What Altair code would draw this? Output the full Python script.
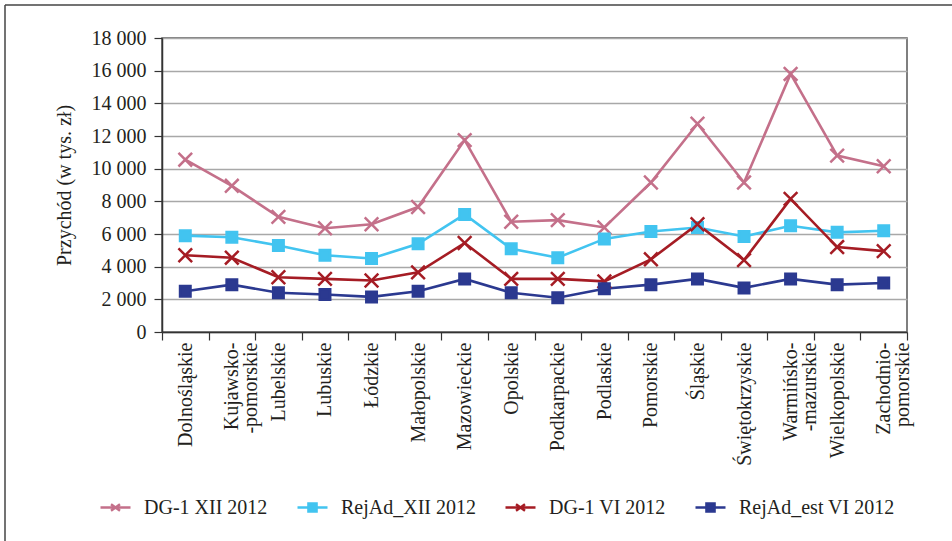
import altair as alt
import pandas as pd

# Regions (voivodeships); "|" marks a line break in the axis label
regions = [
    "Dolnośląskie", "Kujawsko-|-pomorskie", "Lubelskie", "Lubuskie", "Łódzkie",
    "Małopolskie", "Mazowieckie", "Opolskie", "Podkarpackie", "Podlaskie",
    "Pomorskie", "Śląskie", "Świętokrzyskie", "Warmińsko-|-mazurskie",
    "Wielkopolskie", "Zachodnio-|pomorskie",
]

series_names = ["DG-1 XII 2012", "RejAd_XII 2012", "DG-1 VI 2012", "RejAd_est VI 2012"]

# Revenue in thousands of PLN
dg1_xii = [10550, 8950, 7050, 6350, 6600, 7650, 11750, 6750, 6850, 6400, 9150, 12750, 9150, 15800, 10800, 10150]
rejad_xii = [5900, 5800, 5300, 4700, 4500, 5400, 7200, 5100, 4550, 5700, 6150, 6400, 5850, 6500, 6100, 6200]
dg1_vi = [4700, 4550, 3350, 3250, 3150, 3650, 5450, 3250, 3250, 3100, 4450, 6600, 4400, 8150, 5200, 4950]
rejad_est_vi = [2500, 2900, 2400, 2300, 2150, 2500, 3250, 2400, 2100, 2650, 2900, 3250, 2700, 3250, 2900, 3000]

series_colors = ["#c4708a", "#42c4f0", "#a51c24", "#2b3990"]

# Marker shapes: an X for the DG-1 series, a square for the RejAd series
X_PATH = "M-1.3,-1.3L1.3,1.3M-1.3,1.3L1.3,-1.3"
marker_shapes = [X_PATH, "square", X_PATH, "square"]
# Legend symbols: a short line segment with the marker on top
LEG_X = "M-1,0H1M-0.3,-0.22L0.3,0.22M-0.3,0.22L0.3,-0.22"
LEG_SQ = "M-1,0H1M-0.27,-0.27H0.27V0.27H-0.27Z"
legend_shapes = [LEG_X, LEG_SQ, LEG_X, LEG_SQ]

rows = []
for name, vals in zip(series_names, [dg1_xii, rejad_xii, dg1_vi, rejad_est_vi]):
    for reg, v in zip(regions, vals):
        rows.append({"region": reg, "series": name, "value": v})
df = pd.DataFrame(rows)

TEXT = "#231f20"
FONT = "Liberation Serif"

x_enc = alt.X(
    "region:N", sort=regions,
    scale=alt.Scale(type="band", paddingInner=0, paddingOuter=0),
    axis=alt.Axis(
        title=None, labelAngle=270, labelFont=FONT, labelFontSize=20, labelColor=TEXT,
        labelExpr="datum.value ? split(datum.value, '|') : ''",
        labelLimit=0, labelPadding=2, labelLineHeight=19,
        tickBand="extent", tickSize=8, tickColor="#333333", tickWidth=1.2,
        domainColor="#333333", domainWidth=1.5, grid=False,
    ),
)
y_enc = alt.Y(
    "value:Q",
    scale=alt.Scale(domain=[0, 18000], nice=False),
    axis=alt.Axis(
        title="Przychód (w tys. zł)", titleFont=FONT, titleFontSize=20,
        titleFontWeight="normal", titleColor=TEXT, titlePadding=17,
        values=list(range(0, 18001, 2000)),
        labelExpr="replace(format(datum.value, ','), ',', ' ')",
        labelFont=FONT, labelFontSize=20, labelColor=TEXT, labelPadding=8,
        tickSize=8, tickColor="#333333", tickWidth=1.2,
        domainColor="#333333", domainWidth=1.5,
        grid=True, gridColor="#a8a8a8", gridWidth=1.5,
    ),
)

stroke_scale = alt.Scale(domain=series_names, range=series_colors)

base = alt.Chart(df).encode(x=x_enc, y=y_enc)

lines = base.mark_line(strokeWidth=2.6).encode(
    stroke=alt.Stroke("series:N", scale=stroke_scale, legend=None),
)

points = base.mark_point(filled=True, size=110, strokeWidth=2.5, opacity=1).encode(
    fill=alt.Fill("series:N", scale=stroke_scale, legend=None),
    stroke=alt.Stroke("series:N", scale=stroke_scale, legend=None),
    shape=alt.Shape("series:N", scale=alt.Scale(domain=series_names, range=marker_shapes), legend=None),
)

legend_def = alt.Legend(
    title=None, orient="none", legendX=-63, legendY=453, direction="horizontal",
    columns=4, gridAlign="none", columnPadding=24, labelOffset=12,
    labelFontSize=20, labelFont=FONT, labelColor=TEXT, labelLimit=0,
    symbolSize=900, symbolStrokeWidth=2.5,
)
legend_layer = alt.Chart(df).transform_filter("false").mark_point(
    filled=True, opacity=1, strokeWidth=2.5
).encode(
    fill=alt.Fill("series:N", scale=stroke_scale, legend=legend_def),
    stroke=alt.Stroke("series:N", scale=stroke_scale, legend=legend_def),
    shape=alt.Shape("series:N", scale=alt.Scale(domain=series_names, range=legend_shapes), legend=legend_def),
)

# Outer frame around the figure (left and top edges)
one = alt.Data(values=[{}])
frame_left = alt.Chart(one).mark_rule(color="#444444", strokeWidth=1.5).encode(
    x=alt.value(-157), y=alt.value(-33), y2=alt.value(510)
)
frame_top = alt.Chart(one).mark_rule(color="#444444", strokeWidth=1.5).encode(
    x=alt.value(-157), x2=alt.value(800), y=alt.value(-33)
)

chart = alt.layer(lines, points, legend_layer, frame_left, frame_top).resolve_scale(
    fill="independent", stroke="independent", shape="independent"
).properties(
    width=745, height=294,
    autosize=alt.AutoSizeParams(type="none"),
    padding={"left": 162, "top": 38, "right": 45, "bottom": 209},
).configure(font=FONT).configure_view(
    stroke="#555555", strokeWidth=1.5
)

chart.save("out.html", embed_options={"renderer": "svg", "actions": False})
